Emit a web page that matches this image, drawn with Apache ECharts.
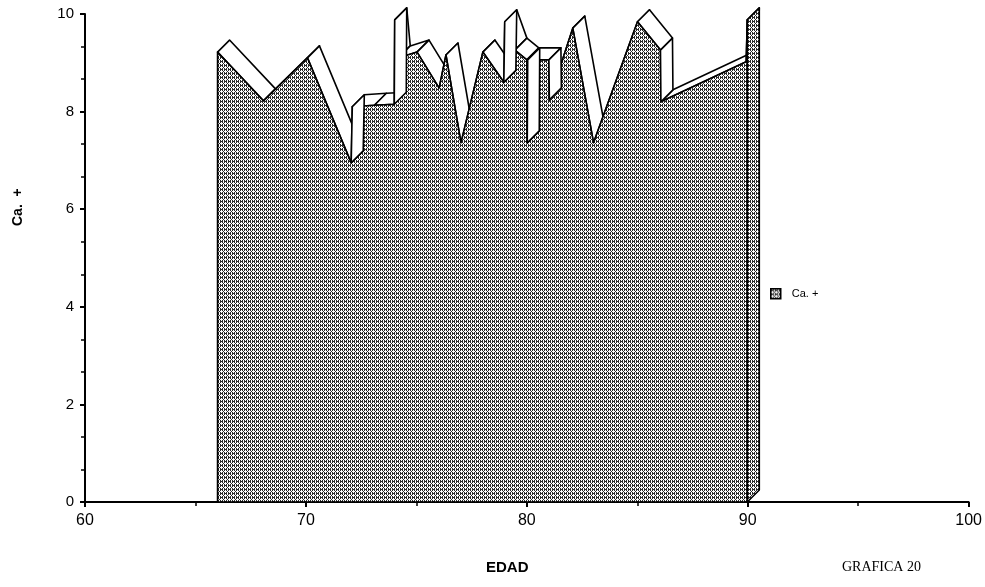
<!DOCTYPE html>
<html>
<head>
<meta charset="utf-8">
<script src="https://cdn.jsdelivr.net/npm/echarts@6/dist/echarts.min.js"></script>
<style>html,body{margin:0;padding:0;background:#fff}#c{width:985px;height:587px}</style>
</head>
<body>
<div id="c"></div>
<script>
// ---- data ----
const ages = [66.0, 68.08, 70.07, 72.05, 72.1, 73.1, 74.0, 74.02, 74.18, 75.03, 76.03, 76.34, 77.02, 78.01, 78.96, 79.0, 79.46, 80.0, 80.02, 80.04, 81.0, 81.02, 82.08, 83.02, 85.01, 86.05, 86.07, 89.93, 89.98];
const caPlus = [9.22, 8.22, 9.10, 6.95, 8.10, 8.13, 8.15, 9.88, 9.10, 9.22, 8.48, 9.16, 7.36, 9.22, 8.60, 9.84, 9.26, 9.06, 7.36, 9.06, 9.06, 8.24, 9.71, 7.36, 9.84, 9.26, 8.20, 9.02, 9.88];
const xTickValues = [60, 70, 80, 90, 100];
const yTickValues = [0, 2, 4, 6, 8, 10];
const seriesName = 'Ca. +';
const xTitle = 'EDAD';
const yTitle = 'Ca.  +';
const footnote = 'GRAFICA 20';

function makePattern() {
  const c = document.createElement('canvas');
  c.width = 4; c.height = 4;
  const ctx = c.getContext('2d');
  ctx.fillStyle = '#ffffff';
  ctx.fillRect(0, 0, 4, 4);
  ctx.fillStyle = '#2a2a2a';
  for (let x = 0; x < 4; x++) for (let y = 0; y < 4; y++) {
    if ((x % 2 === 0 && y !== 3) || (x === 1 && y === 1) || (x === 3 && y === 3)) ctx.fillRect(x, y, 1, 1);
  }
  return c;
}
const pattern = { image: makePattern(), repeat: 'repeat' };

const chart = echarts.init(document.getElementById('c'), null, { renderer: 'canvas' });
const DX = 12, DY = -12;

function renderItem(params, api) {
  if (params.dataIndex !== 0) return null;
  const n = ages.length;
  const pts = ages.map((a, i) => api.coord([a, caPlus[i]]));
  const base0 = api.coord([ages[0], 0]);
  const baseN = api.coord([ages[n - 1], 0]);
  const rib = (p, q, fill) => ({
    type: 'polygon',
    shape: { points: [p, q, [q[0] + DX, q[1] + DY], [p[0] + DX, p[1] + DY]] },
    style: { fill: fill, stroke: '#000', lineWidth: 1.6, lineJoin: 'round' }
  });
  const children = [];
  const vertical = [];
  for (let i = 0; i < n - 1; i++) {
    const p = pts[i], q = pts[i + 1];
    if (Math.abs(q[0] - p[0]) < 3) vertical.push(rib(p, q, '#fff'));
    else children.push(rib(p, q, '#fff'));
  }
  children.push({
    type: 'polygon',
    shape: { points: [base0].concat(pts, [baseN]) },
    style: { fill: pattern, stroke: '#000', lineWidth: 1.6, lineJoin: 'round' }
  });
  vertical.forEach(v => children.push(v));
  children.push(rib(pts[n - 1], baseN, pattern));
  return { type: 'group', children: children };
}

const axisCommon = {
  type: 'value',
  axisLine: { show: true, onZero: false, lineStyle: { color: '#000', width: 2 } },
  axisTick: { show: true, length: 5, lineStyle: { color: '#000', width: 2 } },
  minorTick: { show: true, length: 4, lineStyle: { color: '#000', width: 1.5 } },
  splitLine: { show: false },
  minorSplitLine: { show: false }
};

const option = {
  animation: false,
  backgroundColor: '#fff',
  grid: { left: 85, right: 15, top: 14, bottom: 85 },
  xAxis: Object.assign({}, axisCommon, {
    min: xTickValues[0], max: xTickValues[xTickValues.length - 1], interval: xTickValues[1] - xTickValues[0],
    minorTick: Object.assign({}, axisCommon.minorTick, { splitNumber: 2 }),
    axisLabel: { color: '#000', fontSize: 16, margin: 11, fontFamily: 'Liberation Sans' }
  }),
  yAxis: Object.assign({}, axisCommon, {
    min: yTickValues[0], max: yTickValues[yTickValues.length - 1], interval: yTickValues[1] - yTickValues[0],
    minorTick: Object.assign({}, axisCommon.minorTick, { splitNumber: 3 }),
    axisLabel: { color: '#000', fontSize: 15, margin: 11, fontFamily: 'Liberation Sans' }
  }),
  legend: {
    left: 765, top: 283, orient: 'vertical',
    itemWidth: 10, itemHeight: 10,
    data: [{ name: seriesName, icon: 'rect', itemStyle: { color: pattern, borderColor: '#000', borderWidth: 1.5 } }],
    textStyle: { color: '#000', fontSize: 11, fontFamily: 'Liberation Sans', padding: [0, 0, 0, 6] }
  },
  series: [{
    type: 'custom',
    name: seriesName,
    coordinateSystem: 'cartesian2d',
    clip: false,
    silent: true,
    itemStyle: { color: '#999999' },
    data: ages.map((a, i) => [a, caPlus[i]]),
    renderItem: renderItem
  }],
  graphic: [
    { type: 'text', left: 486, top: 560, style: { text: xTitle, fill: '#000', font: 'bold 15px "Liberation Sans"' } },
    { type: 'text', x: 11, y: 226, rotation: Math.PI / 2, style: { text: yTitle, fill: '#000', font: 'bold 14px "Liberation Sans"' } },
    { type: 'text', left: 842, top: 560, style: { text: footnote, fill: '#000', font: '14px "Liberation Serif"' } }
  ]
};
chart.setOption(option);
</script>
</body>
</html>
